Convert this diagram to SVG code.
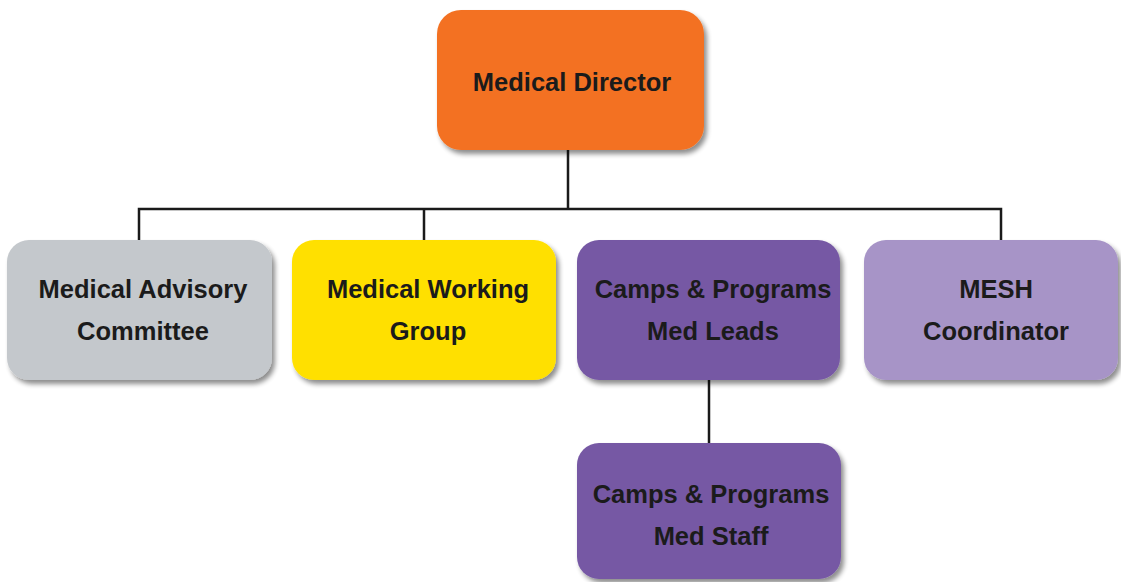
<svg xmlns="http://www.w3.org/2000/svg" width="1121" height="582" viewBox="0 0 1121 582">
<defs>
<filter id="sh" x="-10%" y="-10%" width="125%" height="130%">
<feGaussianBlur in="SourceAlpha" stdDeviation="2.5"/>
<feOffset dx="3" dy="4" result="b"/>
<feComponentTransfer><feFuncA type="linear" slope="0.45"/></feComponentTransfer>
<feMerge><feMergeNode/><feMergeNode in="SourceGraphic"/></feMerge>
</filter>
</defs>
<style>
.box{filter:url(#sh);}
.t{font-family:"Liberation Sans",Arial,sans-serif;font-weight:bold;font-size:25.5px;fill:#1b1b1b;text-anchor:middle;}
.c{stroke:#1a1a1a;stroke-width:2.5;fill:none;}
</style>
<rect width="1121" height="582" fill="#ffffff"/>
<g id="connectors">
<path class="c" d="M568 150 V209 M139 240 V209 H1001 V240 M424 209 V240 M709 380 V443"/>
</g>
<g id="medical-director">
<rect class="box" x="437" y="10" width="267" height="140" rx="24" fill="#F37121"/>
<text class="t" x="572" y="91">Medical Director</text>
</g>
<g id="medical-advisory-committee">
<rect class="box" x="7" y="240" width="265" height="140" rx="22" fill="#C4C8CC"/>
<text class="t" x="143" y="298">Medical Advisory</text>
<text class="t" x="143" y="340">Committee</text>
</g>
<g id="medical-working-group">
<rect class="box" x="292" y="240" width="264" height="140" rx="22" fill="#FFE000"/>
<text class="t" x="428" y="298">Medical Working</text>
<text class="t" x="428" y="340">Group</text>
</g>
<g id="camps-med-leads">
<rect class="box" x="577" y="240" width="263" height="140" rx="22" fill="#7659A4"/>
<text class="t" x="713" y="298">Camps &amp; Programs</text>
<text class="t" x="713" y="340">Med Leads</text>
</g>
<g id="mesh-coordinator">
<rect class="box" x="864" y="240" width="254" height="140" rx="22" fill="#A794C7"/>
<text class="t" x="996" y="298">MESH</text>
<text class="t" x="996" y="340">Coordinator</text>
</g>
<g id="camps-med-staff">
<rect class="box" x="577" y="443" width="264" height="136" rx="22" fill="#7659A4"/>
<text class="t" x="711" y="503">Camps &amp; Programs</text>
<text class="t" x="711" y="545">Med Staff</text>
</g>
</svg>
